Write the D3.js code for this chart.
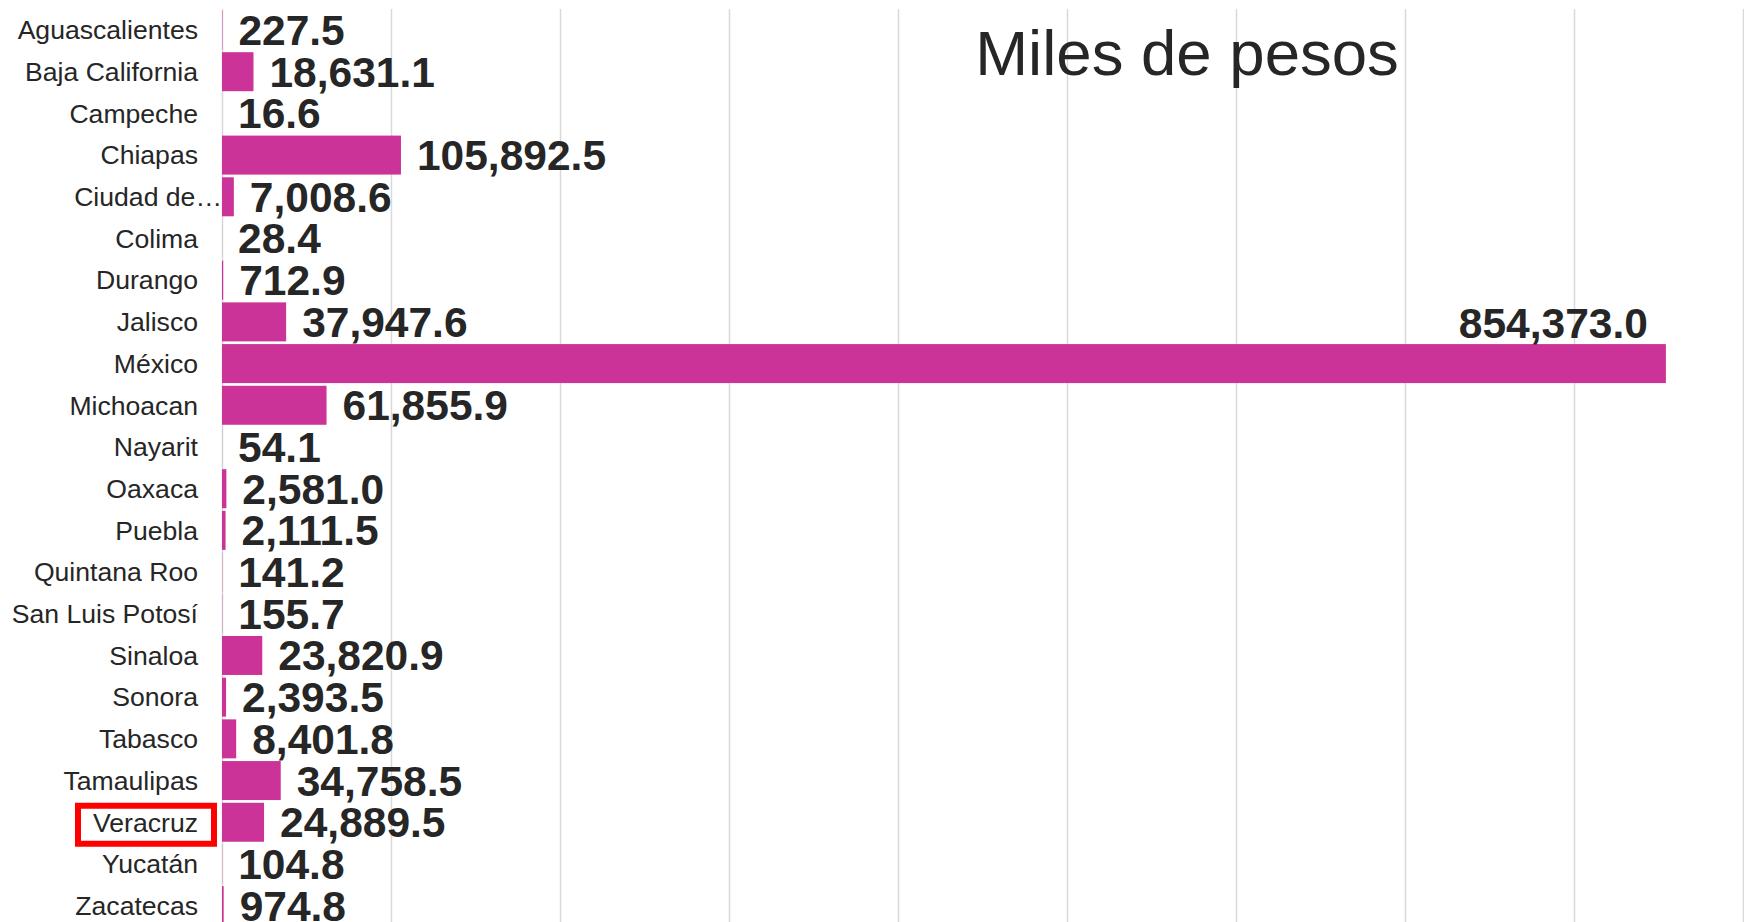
<!DOCTYPE html>
<html>
<head>
<meta charset="utf-8">
<script src="https://cdn.jsdelivr.net/npm/d3@7"></script>
<style>
  body { margin: 0; background: #fff; }
  svg { display: block; font-family: "Liberation Sans", Arial, sans-serif; }
</style>
</head>
<body>
<div id="chart"></div>
<script>
// Data (miles de pesos)
var estados = ["Aguascalientes", "Baja California", "Campeche", "Chiapas", "Ciudad de México",
  "Colima", "Durango", "Jalisco", "México", "Michoacan", "Nayarit", "Oaxaca", "Puebla",
  "Quintana Roo", "San Luis Potosí", "Sinaloa", "Sonora", "Tabasco", "Tamaulipas",
  "Veracruz", "Yucatán", "Zacatecas"];
var montos = [227.5, 18631.1, 16.6, 105892.5, 7008.6, 28.4, 712.9, 37947.6, 854373.0,
  61855.9, 54.1, 2581.0, 2111.5, 141.2, 155.7, 23820.9, 2393.5, 8401.8, 34758.5,
  24889.5, 104.8, 974.8];
var xTicks = [0, 100000, 200000, 300000, 400000, 500000, 600000, 700000, 800000, 900000];
var titulo = "Miles de pesos";
var resaltado = "Veracruz";

var svgWidth = 1744;
var svgHeight = 922;
var fuente = "'Liberation Sans', Arial, sans-serif";

var data = estados.map(function(d, i) { return {estado: d, monto: montos[i]}; });

var svg = d3.select("#chart").append("svg")
    .attr("width", svgWidth)
    .attr("height", svgHeight)
    .style("overflow", "hidden");

// Scales
var x = d3.scaleLinear()
    .domain([0, 900000])
    .range([222, 1743]);

var y = d3.scaleBand()
    .domain(estados)
    .range([9.15, 926.5])
    .paddingInner(0.065)
    .paddingOuter(0.0325);

// Vertical gridlines (no tick labels)
var grid = svg.append("g")
    .attr("transform", "translate(0, 9)")
    .call(d3.axisBottom(x).tickValues(xTicks).tickSize(svgHeight).tickFormat(""));
grid.select(".domain").remove();
grid.selectAll("line").attr("stroke", "#d9d9d9").attr("stroke-width", 1.5);

// Category axis
var yAxis = svg.append("g")
    .attr("transform", "translate(198, 0)")
    .call(d3.axisLeft(y).tickSize(0).tickPadding(0)
      .tickFormat(function(d) { return d === "Ciudad de México" ? "Ciudad de…" : d; }));
yAxis.select(".domain").remove();
yAxis.attr("font-family", fuente);
yAxis.selectAll("text")
    .style("font-family", fuente)
    .attr("font-size", "26.6px")
    .attr("fill", "#262626")
    .attr("dy", "0.35em")
    .attr("x", function(d) { return d === "Ciudad de México" ? 24 : 0; });

// Bars
svg.append("g").selectAll("rect")
    .data(data)
    .enter()
    .append("rect")
    .attr("x", x(0))
    .attr("y", d => y(d.estado))
    .attr("width", d => x(d.monto) - x(0))
    .attr("height", y.bandwidth())
    .attr("fill", "#cc3399");

// Value labels
var fmt = d3.format(",.1f");
svg.append("g").selectAll("text")
    .data(data)
    .enter()
    .append("text")
    .attr("x", function(d) {
        var end = x(d.monto);
        return end > 1500 ? end - 18 : end + 16;
    })
    .attr("y", function(d) {
        var end = x(d.monto);
        return end > 1500 ? y(d.estado) - 6 : y(d.estado) + y.bandwidth() / 2 + 15;
    })
    .attr("text-anchor", d => x(d.monto) > 1500 ? "end" : "start")
    .style("font-family", fuente)
    .attr("font-size", "42.5px")
    .attr("font-weight", "bold")
    .attr("fill", "#262626")
    .text(d => fmt(d.monto));

// Title
svg.append("text")
    .attr("x", 1187)
    .attr("y", 75)
    .attr("text-anchor", "middle")
    .style("font-family", fuente)
    .attr("font-size", "63.5px")
    .attr("fill", "#262626")
    .text(titulo);

// Red box around the highlighted state
svg.append("rect")
    .attr("x", 78)
    .attr("y", y(resaltado) + y.bandwidth() / 2 - 16.5)
    .attr("width", 136)
    .attr("height", 38)
    .attr("fill", "none")
    .attr("stroke", "#ff0000")
    .attr("stroke-width", 6);
</script>
</body>
</html>
